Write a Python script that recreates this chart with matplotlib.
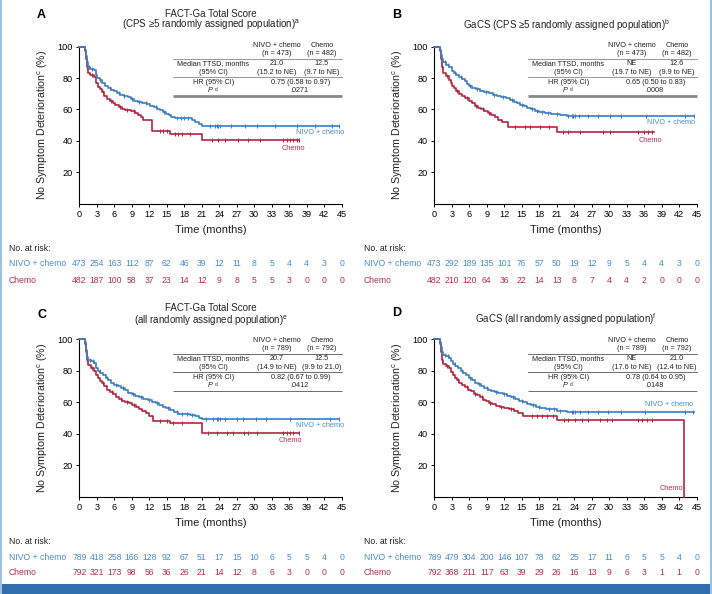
import numpy as np
import matplotlib
matplotlib.use("Agg")
from matplotlib import pyplot as plt
from matplotlib.patches import Rectangle
from matplotlib.lines import Line2D

plt.rcParams['font.family'] = ['Liberation Sans', 'DejaVu Sans']
plt.rcParams['mathtext.fontset'] = 'custom'
plt.rcParams['mathtext.rm'] = 'Liberation Sans'
plt.rcParams['mathtext.it'] = 'Liberation Sans:italic'

BLUE = '#3b7dbf'
RED = '#b0263f'
BLUE_TXT = '#4a8cc9'
RED_TXT = '#b2304a'

months = list(range(0, 46, 3))

# ---- panel A: FACT-Ga total score, CPS >= 5
a_nivo_t = [0, 1.0, 1.15, 1.3, 1.5, 1.9, 2.5, 2.8, 3.1, 3.5, 3.9, 4.4, 4.9, 5.4, 5.9, 6.4, 7.0, 7.6, 8.3,
            8.9, 9.4, 10.0, 10.8, 11.6, 12.2, 12.8, 13.3, 13.8, 14.3, 14.8, 15.3, 15.8, 16.4, 19.3, 19.9, 20.6, 21.0]
a_nivo_s = [100, 98, 94, 90, 87, 86, 85, 82, 80, 78.5, 77, 75, 73.5, 72.5, 71.5, 70.5, 69.5, 68.8, 67.8,
            66.5, 65.5, 64.8, 64, 63.3, 62.5, 61.5, 60.5, 59.5, 58.5, 57.2, 56.2, 55.2, 54.5, 53.2, 52, 51, 49.3]
a_nivo_end = 44.6
a_nivo_cens = [1.3, 1.7, 2.2, 3.6, 5.2, 6.8, 7.7, 9.1, 10.2, 11.5, 13.1, 14.5, 16.8, 17.4, 18.0, 18.6,
               22.4, 23.3, 23.6, 23.8, 24.1, 26.1, 28.4, 30.4, 33.6, 37.3, 40.4, 43.3, 44.6]
a_chemo_t = [0, 1.0, 1.15, 1.3, 1.45, 1.9, 2.6, 2.9, 3.2, 3.5, 3.9, 4.3, 4.7, 5.2, 5.7, 6.2, 6.8, 7.3, 7.9,
             8.8, 9.5, 10.1, 10.6, 11.0, 12.5, 15.5, 21.0]
a_chemo_s = [100, 97, 92, 87, 83, 82, 80.5, 77, 74.5, 73, 71, 68.5, 67, 65.5, 64, 63, 61.5, 60.2, 59.5,
             59, 58, 56.5, 55, 53.5, 46.2, 44.2, 40.3]
a_chemo_end = 37.7
a_chemo_cens = [1.4, 2.1, 4.0, 5.5, 7.0, 8.2, 9.3, 13.8, 14.4, 15.0, 16.4, 17.0, 17.6, 19.0,
                22.7, 23.8, 25.0, 27.3, 29.0, 31.0, 35.0, 35.6, 36.1, 36.7, 37.3, 37.7]
risk_a_nivo = [473, 254, 163, 112, 87, 62, 46, 39, 12, 11, 8, 5, 4, 4, 3, 0]
risk_a_chemo = [482, 187, 100, 58, 37, 23, 14, 12, 9, 8, 5, 5, 3, 0, 0, 0]
tab_a = ['21.0', '12.5', '(15.2 to NE)', '(9.7 to NE)', '0.75 (0.58 to 0.97)', '.0271']

# ---- panel B: GaCS, CPS >= 5
b_nivo_t = [0, 1.0, 1.15, 1.3, 1.5, 2.0, 2.6, 3.0, 3.4, 3.8, 4.3, 4.8, 5.2, 5.6, 6.0, 6.5, 7.1, 7.8, 8.5,
            9.3, 10.0, 10.7, 11.5, 12.3, 13.0, 13.6, 14.1, 14.7, 15.3, 15.9, 16.5, 17.2, 18.0, 19.0, 20.0, 21.5, 22.7]
b_nivo_s = [100, 98, 95, 92, 90, 88.5, 87, 84.5, 83, 82, 80.5, 79.5, 78, 76.5, 75, 74, 73.2, 72, 71.3,
            70.5, 69.5, 68.5, 68, 67.2, 66, 65, 64, 63, 62, 61, 60, 59, 58.2, 57.5, 57, 56.5, 56]
b_nivo_end = 44.6
b_nivo_cens = [1.3, 1.8, 2.3, 3.6, 4.6, 6.2, 7.4, 8.9, 10.3, 11.8, 13.3, 15.0, 16.8, 17.6, 18.5, 19.5,
               21.0, 23.0, 23.6, 23.8, 24.1, 24.8, 26.4, 28.1, 30.1, 32.1, 36.3, 43.0, 44.5]
b_chemo_t = [0, 1.0, 1.15, 1.3, 1.45, 2.0, 2.5, 2.8, 3.1, 3.4, 3.8, 4.2, 4.7, 5.3, 5.9, 6.4, 7.0, 7.5, 8.0,
             8.6, 9.2, 9.8, 10.4, 10.9, 11.6, 12.6, 21.0]
b_chemo_s = [100, 97, 92, 87, 83, 81.5, 79, 77, 75, 73.5, 71.5, 70, 68.5, 67.2, 65.5, 64, 62.5, 61.2, 60,
             59, 58, 56.5, 55, 53.5, 52, 49, 45.5]
b_chemo_end = 37.7
b_chemo_cens = [1.4, 2.2, 3.9, 5.6, 7.2, 8.3, 9.4, 13.8, 15.6, 16.4, 18.1, 19.6,
                22.1, 23.0, 25.0, 29.0, 30.1, 35.0, 35.9, 36.7, 37.3]
risk_b_nivo = [473, 292, 189, 135, 101, 76, 57, 50, 19, 12, 9, 5, 4, 4, 3, 0]
risk_b_chemo = [482, 210, 120, 64, 36, 22, 14, 13, 8, 7, 4, 4, 2, 0, 0, 0]
tab_b = ['NE', '12.6', '(19.7 to NE)', '(9.9 to NE)', '0.65 (0.50 to 0.83)', '.0008']

# ---- panel C: FACT-Ga total score, all randomized
c_nivo_t = [0, 1.0, 1.15, 1.3, 1.5, 2.0, 2.6, 2.9, 3.2, 3.6, 4.0, 4.5, 5.0, 5.5, 6.0, 6.6, 7.2, 7.8, 8.4,
            9.0, 9.6, 10.3, 11.0, 11.8, 12.5, 13.1, 13.7, 14.3, 14.9, 15.5, 16.2, 17.0, 19.0, 19.8, 20.5, 21.0]
c_nivo_s = [100, 98, 93, 89, 87, 86, 85, 82, 80, 78.5, 77, 75.5, 74, 72.5, 71, 70, 69, 67.5, 66,
            65, 64, 63, 62, 61.3, 60.3, 59.2, 58.2, 57, 56, 54.8, 53.5, 52.5, 52, 51, 50, 49]
c_nivo_end = 44.6
c_nivo_cens = [1.3, 1.8, 2.3, 3.5, 4.8, 6.3, 7.5, 9.2, 10.6, 12.0, 13.4, 15.2, 16.8, 17.6, 18.4, 19.4,
               21.8, 23.0, 23.6, 23.8, 24.1, 25.0, 27.0, 28.1, 30.3, 32.1, 36.1, 43.0, 44.6]
c_chemo_t = [0, 1.0, 1.15, 1.3, 1.45, 2.0, 2.6, 2.9, 3.2, 3.5, 3.9, 4.3, 4.8, 5.3, 5.8, 6.3, 6.8, 7.3, 7.9,
             8.5, 9.1, 9.7, 10.3, 10.8, 11.4, 12.0, 12.6, 15.5, 21.0]
c_chemo_s = [100, 97, 92, 87, 83.5, 82, 80, 77.5, 75.5, 73.5, 72, 70, 68, 66.5, 65, 63.5, 62.2, 61, 60,
             59.2, 58.3, 57, 55.5, 54.5, 53, 51.5, 48, 46.7, 40.7]
c_chemo_end = 37.7
c_chemo_cens = [1.4, 2.2, 4.1, 5.6, 7.1, 8.2, 9.4, 13.8, 15.0, 16.1, 17.6,
                22.1, 23.6, 25.3, 26.4, 28.2, 29.0, 30.4, 35.0, 35.6, 36.1, 36.7, 37.6]
risk_c_nivo = [789, 418, 258, 166, 128, 92, 67, 51, 17, 15, 10, 6, 5, 5, 4, 0]
risk_c_chemo = [792, 321, 173, 98, 56, 36, 26, 21, 14, 12, 8, 6, 3, 0, 0, 0]
tab_c = ['20.7', '12.5', '(14.9 to NE)', '(9.9 to 21.0)', '0.82 (0.67 to 0.99)', '.0412']

# ---- panel D: GaCS, all randomized
d_nivo_t = [0, 1.0, 1.15, 1.3, 1.5, 2.0, 2.6, 2.9, 3.2, 3.6, 4.0, 4.5, 5.0, 5.5, 6.0, 6.5, 7.0, 7.5, 8.0,
            8.6, 9.2, 9.8, 10.4, 11.0, 11.7, 12.4, 13.1, 13.8, 14.5, 15.2, 15.9, 16.6, 17.4, 18.2, 19.2, 21.0, 22.7]
d_nivo_s = [100, 98, 95, 92, 90, 89.5, 88, 86, 84.5, 83, 81.5, 80, 78.5, 77, 75.5, 74, 72.5, 71.5, 70,
            69, 68, 67.2, 66.5, 65.7, 65, 64, 63, 62, 61, 60, 59, 58, 57, 56, 55.5, 54.7, 53.7]
d_nivo_end = 44.6
d_nivo_cens = [1.3, 1.8, 2.4, 3.5, 4.7, 6.2, 7.6, 9.0, 10.6, 12.0, 13.5, 15.0, 16.9, 18.0, 19.6, 20.5,
               21.5, 23.6, 23.8, 24.1, 25.0, 26.4, 28.1, 29.8, 32.1, 36.1, 43.0, 44.4]
d_chemo_t = [0, 1.0, 1.15, 1.3, 1.45, 2.0, 2.6, 2.9, 3.2, 3.5, 3.9, 4.3, 4.8, 5.3, 5.8, 6.3, 6.8, 7.3, 7.8,
             8.3, 8.8, 9.3, 9.9, 10.5, 11.2, 12.0, 12.8, 13.6, 14.3, 15.2, 21.0, 42.8]
d_chemo_s = [100, 97, 92, 87, 84, 83, 81.5, 79, 77, 75.5, 74, 72.5, 71, 69.5, 68, 67, 65.5, 64.5, 63,
             61.5, 60.5, 59.5, 58.7, 57.8, 57, 56.5, 55.5, 54.5, 53, 51.2, 48.7, 0]
d_chemo_end = 42.8
d_chemo_cens = [1.4, 2.2, 4.0, 5.6, 7.0, 8.1, 9.6, 11.5, 13.2, 16.7, 17.6, 18.4, 19.3, 20.4,
                22.3, 23.0, 24.1, 25.3, 26.4, 28.4, 29.6, 30.4, 35.0, 35.6, 36.4, 37.4]
risk_d_nivo = [789, 479, 304, 200, 146, 107, 78, 62, 25, 17, 11, 6, 5, 5, 4, 0]
risk_d_chemo = [792, 368, 211, 117, 63, 39, 29, 26, 16, 13, 9, 6, 3, 1, 1, 0]
tab_d = ['NE', '21.0', '(17.6 to NE)', '(12.4 to NE)', '0.78 (0.64 to 0.95)', '.0148']


def km(ax, t, s, t_end, cens, color):
    tt = list(t) + [t_end]
    ss = list(s) + [s[-1]]
    ax.step(tt, ss, where='post', color=color, lw=1.2, clip_on=False, zorder=3)
    idx = np.searchsorted(t, cens, side='right') - 1
    cy = np.array(s)[idx]
    ax.plot(cens, cy, ls='none', marker='|', ms=3.2, mew=0.7, color=color, clip_on=False, zorder=3)


def table(ax, vals, sup, dy, thick, n1, n2):
    kw = dict(ha='center', va='center', fontsize=5.2, color='#222222')
    ax.text(33.9, 100.8 + dy, 'NIVO + chemo', **kw)
    ax.text(41.6, 100.8 + dy, 'Chemo', **kw)
    ax.text(33.9, 95.6 + dy, '(n = %s)' % n1, **kw)
    ax.text(41.6, 95.6 + dy, '(n = %s)' % n2, **kw)
    ax.text(23.0, 89.0 + dy, 'Median TTSD, months', **kw)
    ax.text(23.0, 83.7 + dy, '(95% CI)', **kw)
    ax.text(33.9, 89.0 + dy, vals[0], **kw)
    ax.text(41.6, 89.0 + dy, vals[1], **kw)
    ax.text(33.9, 83.7 + dy, vals[2], **kw)
    ax.text(41.6, 83.7 + dy, vals[3], **kw)
    ax.text(23.0, 77.4 + dy, 'HR (95% CI)', **kw)
    ax.text(22.9, 72.0 + dy, 'P', ha='right', va='center', fontsize=5.2, style='italic', color='#222222')
    ax.text(23.15, 73.0 + dy, sup, ha='left', va='center', fontsize=3.4, color='#222222')
    ax.text(38.0, 77.4 + dy, vals[4], **kw)
    ax.text(37.8, 72.0 + dy, vals[5], **kw)
    lc = '#888888' if thick else '#555555'
    for yy in (92.0, 80.9):
        ax.plot([16.1, 45.0], [yy + dy, yy + dy], color=lc, lw=0.6, clip_on=False)
    ax.plot([16.1, 45.0], [68.6 + dy, 68.6 + dy], color=lc,
            lw=2.0 if thick else 0.6, clip_on=False, solid_capstyle='butt')


fig = plt.figure(figsize=(7.12, 5.94), dpi=100)
W, H = 712.0, 594.0

panels = [
    dict(x0=79.3, y0=203.7, yb=157.0, letter='A', ly=1.202,
         title=['FACT-Ga Total Score', r'(CPS ≥5 randomly assigned population)$^{\rm a}$'], ty=[1.208, 1.138],
         nivo=(a_nivo_t, a_nivo_s, a_nivo_end, a_nivo_cens), chemo=(a_chemo_t, a_chemo_s, a_chemo_end, a_chemo_cens),
         risk=(risk_a_nivo, risk_a_chemo), tab=tab_a, n=('473', '482'), dy=0, thick=True,
         nlab=(344, 132), clab=(293.5, 148), ry=(249, 264, 280), rx=9),
    dict(x0=434.3, y0=203.7, yb=157.0, letter='B', ly=1.202,
         title=[r'GaCS (CPS ≥5 randomly assigned population)$^{\rm b}$'], ty=[1.138],
         nivo=(b_nivo_t, b_nivo_s, b_nivo_end, b_nivo_cens), chemo=(b_chemo_t, b_chemo_s, b_chemo_end, b_chemo_cens),
         risk=(risk_b_nivo, risk_b_chemo), tab=tab_b, n=('473', '482'), dy=0, thick=True,
         nlab=(695, 122.7), clab=(650, 140), ry=(249, 264, 280), rx=363.7),
    dict(x0=79.3, y0=496.5, yb=157.2, letter='C', ly=1.155,
         title=['FACT-Ga Total Score', r'(all randomly assigned population)$^{\rm e}$'], ty=[1.197, 1.118],
         nivo=(c_nivo_t, c_nivo_s, c_nivo_end, c_nivo_cens), chemo=(c_chemo_t, c_chemo_s, c_chemo_end, c_chemo_cens),
         risk=(risk_c_nivo, risk_c_chemo), tab=tab_c, n=('789', '792'), dy=-1.5, thick=False,
         nlab=(344, 425.7), clab=(290.5, 440), ry=(541, 557, 572.7), rx=9),
    dict(x0=434.3, y0=496.5, yb=157.2, letter='D', ly=1.167,
         title=[r'GaCS (all randomly assigned population)$^{\rm f}$'], ty=[1.127],
         nivo=(d_nivo_t, d_nivo_s, d_nivo_end, d_nivo_cens), chemo=(d_chemo_t, d_chemo_s, d_chemo_end, d_chemo_cens),
         risk=(risk_d_nivo, risk_d_chemo), tab=tab_d, n=('789', '792'), dy=-1.5, thick=False,
         nlab=(693, 405), clab=(671, 489), ry=(541, 557, 572.7), rx=363.7),
]

for p in panels:
    ax = fig.add_axes([p['x0'] / W, 1 - p['y0'] / H, 262.4 / W, p['yb'] / H])
    ax.set_xlim(0, 45)
    ax.set_ylim(0, 100)
    ax.spines[['top', 'right']].set_visible(False)
    for sp in ('left', 'bottom'):
        ax.spines[sp].set_linewidth(0.8)
    ax.set_xticks(months)
    ax.set_yticks([20, 40, 60, 80, 100])
    ax.tick_params(labelsize=6.6, length=2.5, width=0.7, pad=2)

    km(ax, *p['chemo'], RED)
    km(ax, *p['nivo'], BLUE)

    table(ax, p['tab'], 'd', p['dy'], p['thick'], *p['n'])

    ax.text(-0.144, p['ly'], p['letter'], transform=ax.transAxes, ha='center', va='center',
            fontsize=9, fontweight='bold')
    for line, yy in zip(p['title'], p['ty']):
        ax.text(0.503, yy, line, transform=ax.transAxes, ha='center', va='center', fontsize=7, color='#222222')
    ax.text(-0.138, 0.5, r'No Symptom Deterioration$^{\rm c}$ (%)', transform=ax.transAxes, rotation=90,
            ha='center', va='center', fontsize=7.7, color='#222222')
    ax.text(0.5, -0.168, 'Time (months)', transform=ax.transAxes, ha='center', va='center', fontsize=8,
            color='#222222')

    fig.text(p['nlab'][0] / W, 1 - p['nlab'][1] / H, 'NIVO + chemo', ha='right', va='center',
             fontsize=5.3, color=BLUE_TXT)
    fig.text(p['clab'][0] / W, 1 - p['clab'][1] / H, 'Chemo', ha='center', va='center',
             fontsize=5.3, color=RED_TXT)

    # number at risk
    ry = p['ry']
    fig.text(p['rx'] / W, 1 - ry[0] / H, 'No. at risk:', ha='left', va='center', fontsize=6.2, color='#222222')
    fig.text(p['rx'] / W, 1 - ry[1] / H, 'NIVO + chemo', ha='left', va='center', fontsize=6.2, color=BLUE_TXT)
    fig.text(p['rx'] / W, 1 - ry[2] / H, 'Chemo', ha='left', va='center', fontsize=6.2, color=RED_TXT)
    trans = matplotlib.transforms.blended_transform_factory(ax.transData, fig.transFigure)
    for m, nv, nc in zip(months, p['risk'][0], p['risk'][1]):
        ax.text(m, 1 - ry[1] / H, str(nv), transform=trans, ha='center', va='center', fontsize=6.2,
                color=BLUE_TXT)
        ax.text(m, 1 - ry[2] / H, str(nc), transform=trans, ha='center', va='center', fontsize=6.2,
                color=RED_TXT)

# frame
fig.add_artist(Line2D([1 / W, 1 / W], [0, 1], color='#9cc2e2', lw=1.5))
fig.add_artist(Line2D([710.5 / W, 710.5 / W], [0, 1], color='#9cc2e2', lw=1.5))
fig.add_artist(Rectangle((0, 0), 1, 10.5 / H, transform=fig.transFigure, color='#2f6fae', lw=0))

fig.savefig('out.png', dpi=100)
